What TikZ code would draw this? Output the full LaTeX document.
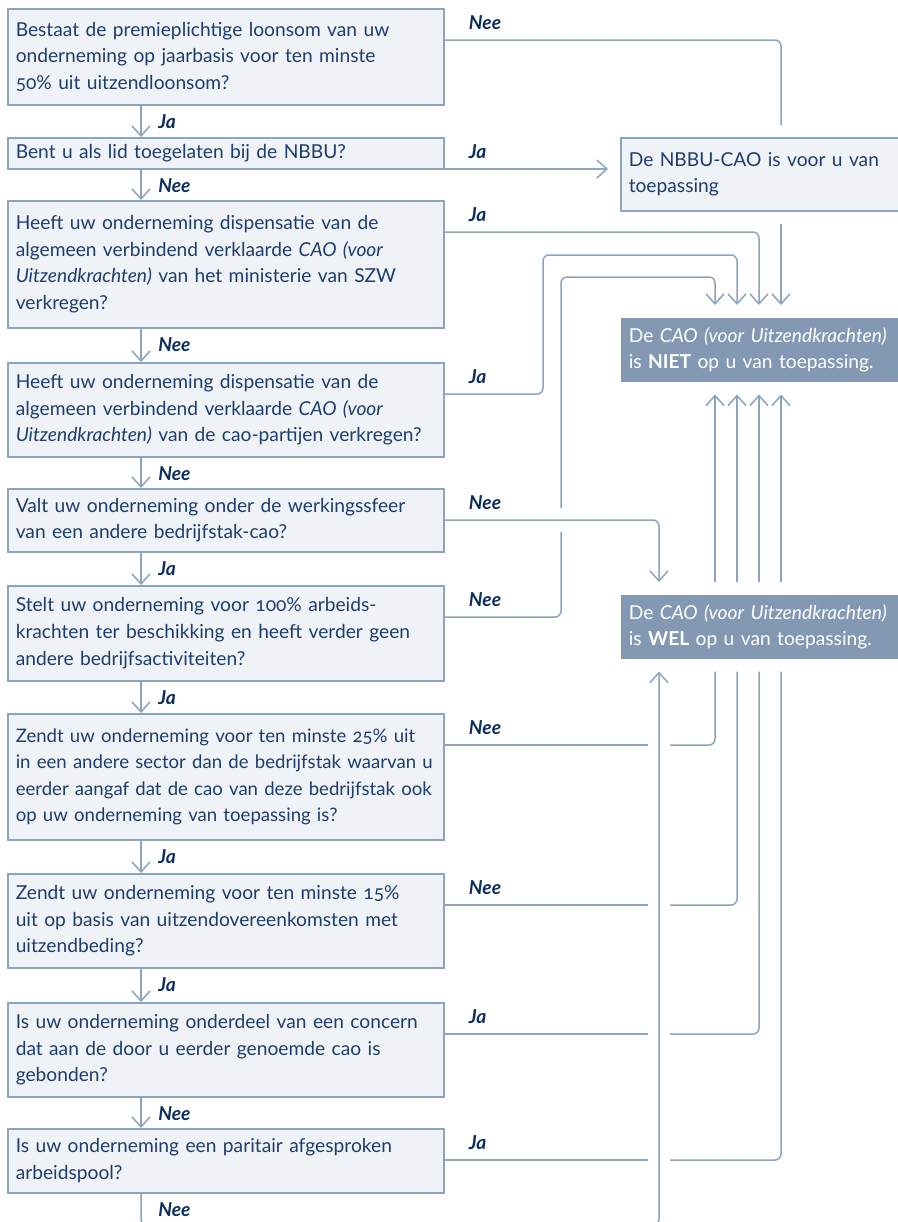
\documentclass[tikz,border=0pt]{standalone}
\usepackage{fontspec}
\setmainfont{Lato}[Numbers=OldStyle]
\usetikzlibrary{arrows.meta,calc}

\definecolor{linecol}{HTML}{8CA5BF}
\definecolor{boxfill}{HTML}{EFF3F7}
\definecolor{txtcol}{HTML}{1D3E6C}
\definecolor{labcol}{HTML}{0C2E5C}
\definecolor{darkfill}{HTML}{8399B3}

\tikzset{
  qbox/.style={draw=linecol, line width=0.75pt, fill=boxfill, text=txtcol,
    anchor=north west, minimum width=218pt, text width=210pt,
    inner xsep=4pt, inner ysep=0pt, align=left,
    font=\fontsize{9.6}{13.3}\selectfont},
  ebox/.style={qbox, minimum width=150pt, text width=142pt},
  dbox/.style={ebox, draw=none, fill=darkfill, text=white},
  link/.style={draw=linecol, line width=0.75pt, rounded corners=3pt},
  tip/.style={-{Straight Barb[length=5pt,width=9pt]}},
  gap/.style={shorten >=6pt},
  lab/.style={text=labcol, inner sep=0pt, anchor=west,
    font=\bfseries\itshape\fontsize{9.6}{11}\selectfont},
}

\begin{document}
\begin{tikzpicture}[x=0.5pt,y=-0.5pt]
  \useasboundingbox (0,0) rectangle (898,1222);
  % questions
  \node[qbox, minimum height=48pt] (q1) at (7,8) {Bestaat de premieplichtige loonsom van uw\\ onderneming op jaarbasis voor ten minste\\ 50\% uit uitzendloonsom?};
  \node[qbox, minimum height=15.5pt] (q2) at (7,137) {Bent u als lid toegelaten bij de NBBU?};
  \node[qbox, minimum height=63.5pt] (q3) at (7,200) {Heeft uw onderneming dispensatie van de\\ algemeen verbindend verklaarde \textit{CAO (voor}\\ \textit{Uitzendkrachten)} van het ministerie van SZW\\ verkregen?};
  \node[qbox, minimum height=47pt] (q4) at (7,362) {Heeft uw onderneming dispensatie van de\\ algemeen verbindend verklaarde \textit{CAO (voor}\\ \textit{Uitzendkrachten)} van de cao-partijen verkregen?};
  \node[qbox, minimum height=31.5pt] (q5) at (7,488) {Valt uw onderneming onder de werkingssfeer\\ van een andere bedrijfstak-cao?};
  \node[qbox, minimum height=47.5pt] (q6) at (7,585) {Stelt uw onderneming voor 100\% arbeids-\\ krachten ter beschikking en heeft verder geen\\ andere bedrijfsactiviteiten?};
  \node[qbox, minimum height=63pt, font=\fontsize{9.3}{13.3}\selectfont] (q7) at (7,713) {Zendt uw onderneming voor ten minste 25\% uit\\ \mbox{in een andere sector dan de bedrijfstak waarvan u}\\ \mbox{eerder aangaf dat de cao van deze bedrijfstak ook}\\ op uw onderneming van toepassing is?};
  \node[qbox, minimum height=47pt] (q8) at (7,873) {Zendt uw onderneming voor ten minste 15\%\\ uit op basis van uitzendovereenkomsten met\\ uitzendbeding?};
  \node[qbox, minimum height=47pt] (q9) at (7,1002) {Is uw onderneming onderdeel van een concern\\ dat aan de door u eerder genoemde cao is\\ gebonden?};
  \node[qbox, minimum height=32pt] (q10) at (7,1128) {Is uw onderneming een paritair afgesproken\\ arbeidspool?};
  % outcomes
  \node[ebox, minimum height=36.5pt] (nbbu) at (620,137) {De NBBU-CAO is voor u van\\ toepassing};
  \node[dbox, minimum height=32pt] (niet) at (620,317) {De \textit{CAO (voor Uitzendkrachten)}\\ is \textbf{NIET} op u van toepassing.};
  \node[dbox, minimum height=32pt] (wel) at (620,594) {De \textit{CAO (voor Uitzendkrachten)}\\ is \textbf{WEL} op u van toepassing.};
  % columns
  \coordinate (cL) at (141,0);
  \coordinate (cA) at (543,0);
  \coordinate (cB) at (561,0);
  \coordinate (cW) at (659,0);
  \coordinate (c1) at (715,0);
  \coordinate (c2) at (737,0);
  \coordinate (c3) at (759,0);
  \coordinate (c4) at (781,0);
  % exits
  \foreach \q in {1,...,10}
    \coordinate (e\q) at ($(q\q.north east)+(0,32)$);
  % main line
  \foreach \a/\b in {1/2,2/3,3/4,4/5,5/6,6/7,7/8,8/9,9/10}
    \draw[link,tip] (cL |- q\a.south) -- (cL |- q\b.north);
  \draw[link,tip,gap] (cL |- q10.south) -- ($(cL)+(0,1225)$) -| (cW |- wel.south);
  \foreach \q/\t in {1/Ja,2/Nee,3/Nee,4/Nee,5/Ja,6/Ja,7/Ja,8/Ja,9/Nee,10/Nee}
    \node[lab] (l\q) at ($(cL |- q\q.south)+(17,16)$) {\t};
  % side lines
  \draw[link] (e1) -| ($(c4 |- nbbu.north)+(0,-12)$);
  \draw[link,tip,gap] ($(c4 |- nbbu.south)+(0,12)$) -- (c4 |- niet.north);
  \draw[link,tip,gap] (e2) -- (nbbu.west |- e2);
  \draw[link,tip,gap] (e3) -| (c3 |- niet.north);
  \draw[link,tip,gap] (e4) -| ($(cA)+(0,255)$) -| (c2 |- niet.north);
  \draw[link,tip,gap] (e5) -| (cW |- wel.north);
  \draw[link] (e6) -| ($(cB)+(0,532)$);
  \draw[link,tip,gap] ($(cB)+(0,508)$) |- ($(c1)+(0,277)$) -- (c1 |- niet.north);
  \foreach \q/\c in {7/c1,8/c2,9/c3,10/c4}{
    \draw[link] (e\q) -- ($(cW |- e\q)+(-11,0)$);
    \draw[link] ($(cW |- e\q)+(11,0)$) -| ($(\c |- wel.south)+(0,12)$);
    \draw[link,tip,gap] ($(\c |- wel.north)+(0,-12)$) -- (\c |- niet.south);
  }
  \foreach \q/\t in {1/Nee,2/Ja,3/Ja,4/Ja,5/Nee,6/Nee,7/Nee,8/Nee,9/Ja,10/Ja}
    \node[lab] (s\q) at ($(e\q)+(24,-17)$) {\t};
\end{tikzpicture}
\end{document}
